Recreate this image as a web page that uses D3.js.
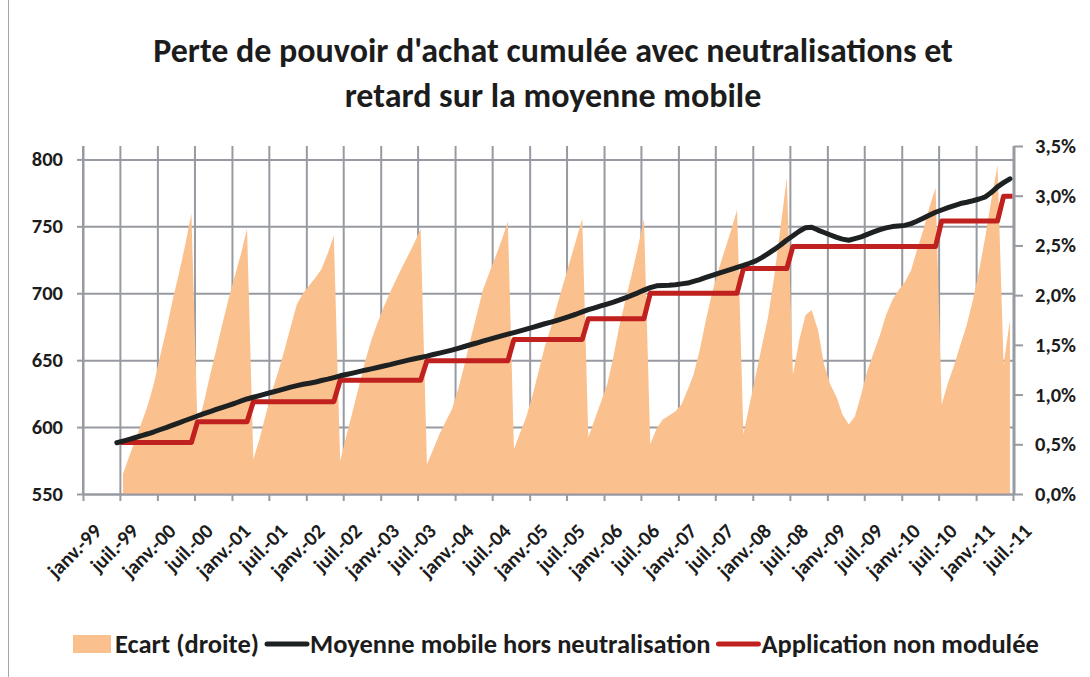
<!DOCTYPE html>
<html>
<head>
<meta charset="utf-8">
<script src="https://cdn.jsdelivr.net/npm/d3@7"></script>
<style>
  body { margin: 0; background: #fff; }
  svg text { font-family: Carlito, Lato, "Open Sans", sans-serif; font-weight: bold; fill: #1c1c1c; }
</style>
</head>
<body>
<svg></svg>
<script>
const width = 1090;
const height = 677;

// monthly series, juin-99 .. juin-11
const moyenne = [
  588.3, 589.5, 590.8, 592.2, 593.6, 595, 596.5,
  598.2, 599.8, 601.5, 603.2, 604.9, 606.6, 608.3, 610, 611.6, 613.2, 614.8, 616.3,
  617.8, 619.5, 621, 622.3, 623.5, 624.8, 626, 627.2, 628.5, 629.8, 631, 632,
  632.8, 633.7, 634.8, 635.8, 637, 638.3, 639.3, 640.3, 641.4, 642.5, 643.5, 644.5,
  645.6, 646.7, 647.8, 648.9, 650, 651, 652, 653, 654.2, 655.3, 656.4, 657.5,
  658.8, 660.2, 661.5, 662.8, 664.2, 665.5, 666.8, 668.1, 669.4, 670.6, 671.9, 673.2,
  674.5, 675.9, 677.2, 678.4, 679.8, 681.3, 682.8, 684.3, 686, 687.7, 689.1, 690.5,
  691.9, 693.3, 694.8, 696.5, 698.4, 700.3, 702.3, 704.2, 705.5, 705.8, 706, 706.4,
  707, 707.6, 708.8, 710.2, 711.8, 713.4, 714.9, 716.3, 717.8, 719.3, 720.8, 722.4,
  724.2, 726.8, 729.6, 732.7, 736, 739.8, 743, 746.3, 749, 749.3, 747.2, 745.4,
  743.5, 741.7, 740.4, 739.6, 740.8, 742.1, 744, 745.8, 747.5, 748.8, 749.8, 750.3,
  750.7, 752, 753.8, 756, 758.3, 760.5, 762.2, 763.9, 765.5, 767, 768, 769.1,
  770.4, 772, 775.2, 779.5, 782.6, 785.5
];

const application = [
  null, 588.5, 588.5, 588.5, 588.5, 588.5, 588.5,
  588.5, 588.5, 588.5, 588.5, 588.5, 588.5, 604, 604, 604, 604, 604, 604,
  604, 604, 604, 619, 619, 619, 619, 619, 619, 619, 619, 619,
  619, 619, 619, 619, 619, 635, 635, 635, 635, 635, 635, 635,
  635, 635, 635, 635, 635, 635, 635, 649.5, 649.5, 649.5, 649.5, 649.5,
  649.5, 649.5, 649.5, 649.5, 649.5, 649.5, 649.5, 649.5, 649.5, 665.5, 665.5, 665.5,
  665.5, 665.5, 665.5, 665.5, 665.5, 665.5, 665.5, 665.5, 665.5, 681, 681, 681,
  681, 681, 681, 681, 681, 681, 681, 700, 700, 700, 700, 700,
  700, 700, 700, 700, 700, 700, 700, 700, 700, 700, 718.5, 718.5,
  718.5, 718.5, 718.5, 718.5, 718.5, 718.5, 735, 735, 735, 735, 735, 735,
  735, 735, 735, 735, 735, 735, 735, 735, 735, 735, 735, 735,
  735, 735, 735, 735, 735, 735, 754, 754, 754, 754, 754, 754,
  754, 754, 754, 754, 772.5, 772.5
];

// écart en %, axe de droite
const ecart = [
  null, 0.2, 0.38, 0.55, 0.72, 0.9, 1.12,
  1.4, 1.67, 1.95, 2.22, 2.5, 2.82, 0.67, 0.92, 1.2, 1.45, 1.72, 1.97,
  2.2, 2.43, 2.67, 0.35, 0.55, 0.8, 1.03, 1.23, 1.45, 1.68, 1.91, 2.02,
  2.1, 2.18, 2.26, 2.42, 2.6, 0.33, 0.58, 0.83, 1.08, 1.33, 1.55, 1.72,
  1.88, 2.03, 2.15, 2.28, 2.4, 2.53, 2.67, 0.3, 0.45, 0.6, 0.73, 0.85,
  1.05, 1.3, 1.55, 1.8, 2.05, 2.22, 2.38, 2.55, 2.74, 0.45, 0.62, 0.78,
  1.0, 1.25, 1.48, 1.68, 1.9, 2.12, 2.33, 2.55, 2.77, 0.57, 0.75, 0.92,
  1.1, 1.38, 1.68, 1.95, 2.2, 2.48, 2.77, 0.5, 0.66, 0.75, 0.79, 0.83,
  0.9, 1.05, 1.2, 1.45, 1.75, 2.03, 2.25, 2.45, 2.65, 2.86, 0.6, 0.9,
  1.2, 1.5, 1.78, 2.2, 2.68, 3.18, 1.2, 1.55, 1.8, 1.85, 1.65, 1.3,
  1.1, 0.97, 0.8, 0.7, 0.78, 1.0, 1.24, 1.42, 1.6, 1.8, 1.95, 2.05,
  2.13, 2.25, 2.45, 2.65, 2.88, 3.08, 0.9, 1.12, 1.3, 1.5, 1.7, 1.95,
  2.25, 2.6, 2.95, 3.31, 1.3, 1.75
];

const tickLabels = [
  "janv.-99", "juil.-99", "janv.-00", "juil.-00", "janv.-01", "juil.-01", "janv.-02",
  "juil.-02", "janv.-03", "juil.-03", "janv.-04", "juil.-04", "janv.-05", "juil.-05",
  "janv.-06", "juil.-06", "janv.-07", "juil.-07", "janv.-08", "juil.-08", "janv.-09",
  "juil.-09", "janv.-10", "juil.-10", "janv.-11", "juil.-11"
];
const leftTicks = [550, 600, 650, 700, 750, 800];
const rightTicks = [0, 0.5, 1, 1.5, 2, 2.5, 3, 3.5];

const title = ["Perte de pouvoir d'achat cumulée avec neutralisations et", "retard sur la moyenne mobile"];
const legendItems = ["Ecart (droite)", "Moyenne mobile hors neutralisation", "Application non modulée"];

const orange = "#fac18f";
const black = "#1e2122";
const red = "#c0211f";
const grid = "#979aa1";

const months = moyenne.map((_, i) => new Date(1999, 5 + i, 16));
const tickDates = tickLabels.map((_, k) => new Date(1999, 6 * k, 1));

const plotLeft = 83, plotRight = 1013, plotTop = 146, plotBottom = 494;

const x = d3.scaleTime().domain([tickDates[0], tickDates[tickDates.length - 1]]).range([plotLeft, plotRight]);
const yL = d3.scaleLinear().domain([550, 810]).range([plotBottom, plotTop]);
const yR = d3.scaleLinear().domain([0, 3.5]).range([plotBottom, plotTop]);

const svg = d3.select("svg").attr("width", width).attr("height", height);

// cadre
svg.append("line").attr("x1", 8.5).attr("x2", 8.5).attr("y1", 0).attr("y2", height)
  .attr("stroke", "#a6a6a6").attr("stroke-width", 1);

// titre
svg.append("g").selectAll("text").data(title).enter().append("text")
  .attr("x", 553).attr("y", (d, i) => 62 + i * 45)
  .attr("text-anchor", "middle").attr("font-size", 34)
  .text(d => d);

// grilles
const gridY = svg.append("g").attr("transform", `translate(${plotLeft},0)`)
  .call(d3.axisLeft(yL).tickValues(leftTicks).tickSize(-(plotRight - plotLeft)).tickFormat(""));
const gridX = svg.append("g").attr("transform", `translate(0,${plotBottom})`)
  .call(d3.axisBottom(x).tickValues(tickDates).tickSize(-(plotBottom - plotTop)).tickFormat(""));
[gridY, gridX].forEach(g => {
  g.select(".domain").remove();
  g.selectAll("line").attr("stroke", grid).attr("stroke-width", 2);
});

// aire écart
const area = d3.area()
  .defined(d => d[1] != null)
  .x(d => x(d[0]))
  .y0(yR(0))
  .y1(d => yR(d[1]));
svg.append("path").datum(months.map((m, i) => [m, ecart[i]]))
  .attr("fill", orange).attr("d", area);

// axes
const axisL = svg.append("g").attr("transform", `translate(${plotLeft},0)`)
  .call(d3.axisLeft(yL).tickValues(leftTicks).tickSize(6).tickSizeOuter(0).tickPadding(14));
axisL.select(".domain").attr("d", `M0,${plotTop}V${plotBottom}`);

const axisB = svg.append("g").attr("transform", `translate(0,${plotBottom})`)
  .call(d3.axisBottom(x).tickValues(tickDates).tickSize(7).tickSizeOuter(0)
    .tickFormat((d, i) => tickLabels[i]));

const axisR = svg.append("g").attr("transform", `translate(${plotRight + 1},0)`)
  .call(d3.axisRight(yR).tickValues(rightTicks).tickSize(9).tickSizeOuter(0).tickPadding(12)
    .tickFormat(d => d3.format(".1f")(d).replace(".", ",") + "%"));

[axisL, axisB, axisR].forEach(g => {
  g.select(".domain").attr("stroke", grid).attr("stroke-width", 2);
  g.selectAll(".tick line").attr("stroke", grid).attr("stroke-width", 2);
  g.selectAll("text").attr("font-size", 20.5).attr("fill", "#1c1c1c")
    .attr("font-family", "Carlito, Lato, 'Open Sans', sans-serif");
});
axisB.selectAll("text")
  .attr("font-size", 20.5)
  .attr("text-anchor", "end")
  .attr("dominant-baseline", "hanging")
  .attr("y", 0).attr("dy", 0)
  .attr("transform", "translate(8,27) rotate(-45)");

// courbes
const line = d3.line()
  .defined(d => d[1] != null)
  .x(d => x(d[0]))
  .y(d => yL(d[1]));

svg.append("path").datum(months.map((m, i) => [m, application[i]]))
  .attr("fill", "none").attr("stroke", red).attr("stroke-width", 5)
  .attr("stroke-linecap", "square").attr("stroke-linejoin", "round")
  .attr("d", line);

svg.append("path").datum(months.map((m, i) => [m, moyenne[i]]))
  .attr("fill", "none").attr("stroke", black).attr("stroke-width", 5)
  .attr("stroke-linecap", "round").attr("stroke-linejoin", "round")
  .attr("d", line);

// légende
const legend = svg.append("g").attr("transform", "translate(73,644)");
let lx = 0;
legendItems.forEach((name, i) => {
  if (i === 0) {
    legend.append("rect").attr("x", lx).attr("y", -9).attr("width", 38).attr("height", 18).attr("fill", orange);
    lx += 42;
  } else {
    lx += 8;
    legend.append("line").attr("x1", lx).attr("x2", lx + 40).attr("y1", 0).attr("y2", 0)
      .attr("stroke", i === 1 ? black : red).attr("stroke-width", 5).attr("stroke-linecap", "round");
    lx += 43;
  }
  const t = legend.append("text").attr("x", lx).attr("y", 0).attr("dy", "0.35em")
    .attr("font-size", 26.5).text(name);
  lx += t.node().getComputedTextLength();
});
</script>
</body>
</html>
